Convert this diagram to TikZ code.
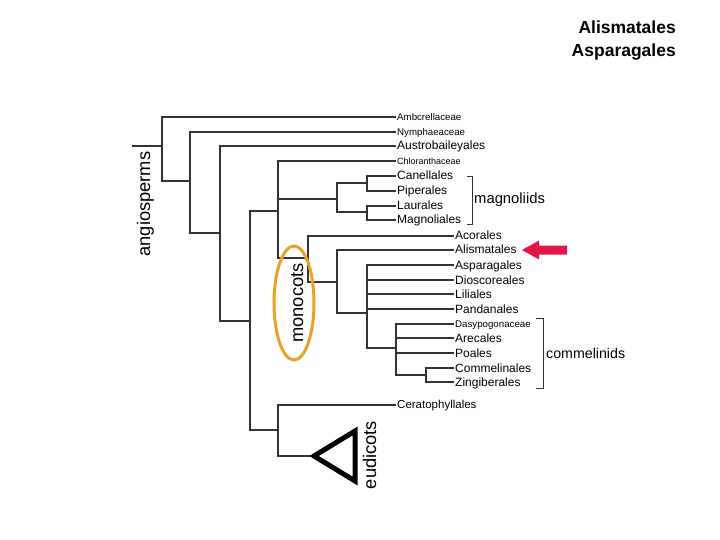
\documentclass[tikz,border=0pt]{standalone}
\usepackage{fontspec}
\setmainfont{Liberation Sans}
\definecolor{treegray}{rgb}{0.2,0.2,0.2}
\definecolor{monoorange}{RGB}{232,162,40}
\definecolor{arrowred}{RGB}{226,22,72}
\tikzset{
  tree/.style={draw=treegray, line width=1.1pt},
  leaf/.style={anchor=west, inner xsep=1pt, inner ysep=0pt, text height=8pt, text depth=0pt, font=\fontsize{12}{14}\selectfont},
  smallleaf/.style={leaf, text height=7pt, font=\fontsize{9.7}{11}\selectfont},
  cladelabel/.style={anchor=west, inner sep=0pt, font=\fontsize{14.8}{17}\selectfont},
  biglabel/.style={rotate=90, anchor=base, inner sep=0pt, font=\fontsize{18.3}{20}\selectfont},
  bracket/.style={draw=treegray, line width=0.9pt},
  toptext/.style={anchor=base east, inner sep=0pt, font=\bfseries\fontsize{17.5}{20}\selectfont}
}
\begin{document}
\begin{tikzpicture}[x=1pt,y=-1pt]
\useasboundingbox (0,0) rectangle (720,540);
\fill[white] (0,0) rectangle (720,540);

% top-right text
\node[toptext] (t1) at (676,34) {Alismatales};
\node[toptext] (t2) at (676,57) {Asparagales};

% leaves
\node[smallleaf] (L1) at (396,117) {Ambcrellaceae};
\node[smallleaf] (L2) at (396,132) {Nymphaeaceae};
\node[leaf] (L3) at (396,146) {Austrobaileyales};
\node[smallleaf, font=\fontsize{9}{11}\selectfont] (L4) at (396,161) {Chloranthaceae};
\node[leaf] (L5) at (396,176) {Canellales};
\node[leaf] (L6) at (396,191) {Piperales};
\node[leaf] (L7) at (396,206) {Laurales};
\node[leaf] (L8) at (396,220) {Magnoliales};
\node[leaf] (L9) at (454,236) {Acorales};
\node[leaf] (L10) at (454,250) {Alismatales};
\node[leaf] (L11) at (454,265) {Asparagales};
\node[leaf] (L12) at (454,280) {Dioscoreales};
\node[leaf] (L13) at (454,294) {Liliales};
\node[leaf] (L14) at (454,309) {Pandanales};
\node[smallleaf] (L15) at (454,324) {Dasypogonaceae};
\node[leaf] (L16) at (454,338) {Arecales};
\node[leaf] (L17) at (454,353) {Poales};
\node[leaf] (L18) at (454,368) {Commelinales};
\node[leaf] (L19) at (454,382) {Zingiberales};
\node[leaf, text height=7.5pt, font=\fontsize{11.5}{13}\selectfont] (L20) at (396,405) {Ceratophyllales};

% internal nodes
\coordinate (root) at (132,146);
\coordinate (A) at (162,146);
\coordinate (B) at (190,181);
\coordinate (C) at (220,233);
\coordinate (D) at (250,321);
\coordinate (E) at (278,211);
\coordinate (F) at (278,430);
\coordinate (M) at (337,199);
\coordinate (M1) at (367,183);
\coordinate (M2) at (367,212);
\coordinate (Mono) at (308,258);
\coordinate (G) at (337,282);
\coordinate (H) at (367,313);
\coordinate (I) at (396,348);
\coordinate (J) at (426,375);
\coordinate (tip) at (312,456);

% tree
\draw[tree] (root) -- (A);
\draw[tree] (A) |- (L1.west);
\draw[tree] (A) |- (B);
\draw[tree] (B) |- (L2.west);
\draw[tree] (B) |- (C);
\draw[tree] (C) |- (L3.west);
\draw[tree] (C) |- (D);
\draw[tree] (D) |- (E);
\draw[tree] (D) |- (F);
\draw[tree] (E) |- (L4.west);
\draw[tree] (E) |- (M);
\draw[tree] (E) |- (Mono);
\draw[tree] (M) |- (M1);
\draw[tree] (M) |- (M2);
\draw[tree] (M1) |- (L5.west);
\draw[tree] (M1) |- (L6.west);
\draw[tree] (M2) |- (L7.west);
\draw[tree] (M2) |- (L8.west);
\draw[tree] (Mono) |- (L9.west);
\draw[tree] (Mono) |- (G);
\draw[tree] (G) |- (L10.west);
\draw[tree] (G) |- (H);
\draw[tree] (H) |- (L11.west);
\draw[tree] (H) |- (L12.west);
\draw[tree] (H) |- (L13.west);
\draw[tree] (H) |- (L14.west);
\draw[tree] (H) |- (I);
\draw[tree] (I) |- (L15.west);
\draw[tree] (I) |- (L16.west);
\draw[tree] (I) |- (L17.west);
\draw[tree] (I) |- (J);
\draw[tree] (J) |- (L18.west);
\draw[tree] (J) |- (L19.west);
\draw[tree] (F) |- (L20.west);
\draw[tree] (F) |- (tip);

% eudicot triangle
\draw[line width=5pt, line join=miter] (314,456) -- (355,431) -- (355,481) -- cycle;

% brackets
\draw[bracket] (467,176) -- (472,176) -- (472,224) -- (467,224);
\draw[bracket] (536,318) -- (543,318) -- (543,388) -- (536,388);
\node[cladelabel] (magn) at (474,200) {magnoliids};
\node[cladelabel, font=\fontsize{14.2}{17}\selectfont] (comm) at (546,353) {commelinids};

% big rotated labels
\node[biglabel] (angio) at (150,204) {angiosperms};
\node[biglabel] (monoc) at (303,303) {monocots};
\node[biglabel] (eudic) at (376,455) {eudicots};

% monocot ellipse
\draw[monoorange, line width=3pt] (294,303) ellipse [x radius=20, y radius=57];

% red arrow
\fill[arrowred] (522,250) -- (539,240.5) -- (539,245.5) -- (567,245.5) -- (567,254.5) -- (539,254.5) -- (539,259.5) -- cycle;
\end{tikzpicture}
\end{document}
